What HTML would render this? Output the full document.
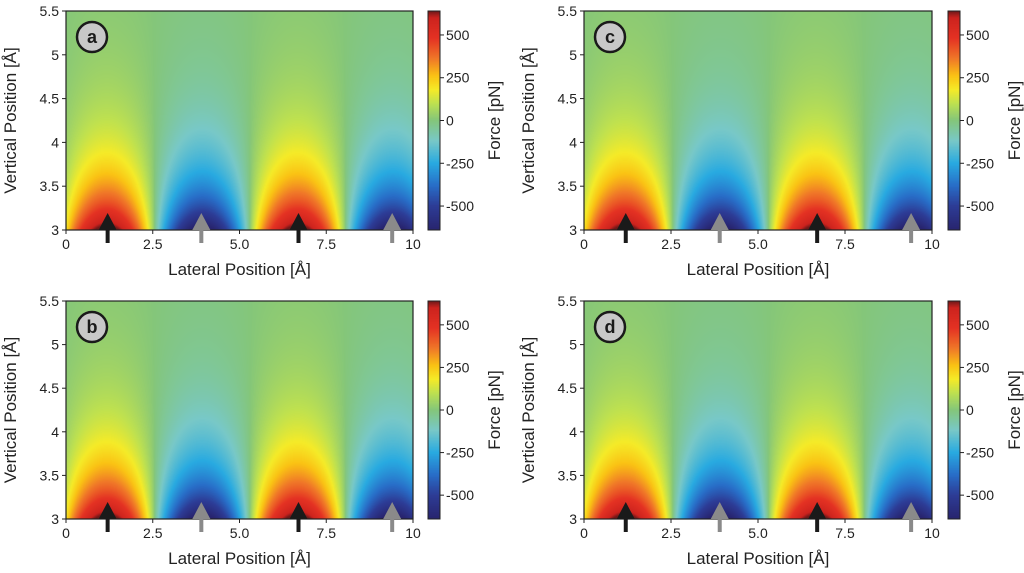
<!DOCTYPE html>
<html><head><meta charset="utf-8">
<style>
body{margin:0;width:1024px;height:573px;background:#fff;position:relative;overflow:hidden;font-family:"Liberation Sans",sans-serif}
canvas{position:absolute}
svg{position:absolute;left:0;top:0}
</style></head>
<body>
<svg id="s" width="1024" height="573"></svg>
<script>
// data
const peakPositions = [1.2, 3.9, 6.7, 9.4];
const peakAmplitudes = [690, -690, 690, -690];
const arrowColors = ['#1a1a1a', '#8a8a8a', '#1a1a1a', '#8a8a8a'];
const decayLength = 0.66;
const period = 5.5;
const xTicks = [0, 2.5, 5.0, 7.5, 10];
const xTickLabels = ['0', '2.5', '5.0', '7.5', '10'];
const yTicks = [3, 3.5, 4, 4.5, 5, 5.5];
const yTickLabels = ['3', '3.5', '4', '4.5', '5', '5.5'];
const cbTicks = [500, 250, 0, -250, -500];
const cbTickLabels = ['500', '250', '0', '-250', '-500'];
const panelLabels = ['a', 'b', 'c', 'd'];

const panels = [
 {x0:66,x1:413,y0:11,y1:230,cb:428},
 {x0:66,x1:413,y0:301,y1:519,cb:428},
 {x0:584,x1:932,y0:11,y1:230,cb:948},
 {x0:584,x1:932,y0:301,y1:519,cb:948}
];
const FMAX=640;
const stops=[[-640,[40,36,110]],[-500,[45,60,150]],[-380,[40,110,200]],[-250,[40,170,225]],[-120,[120,200,200]],[0,[132,198,122]],[100,[190,225,80]],[180,[245,235,40]],[260,[250,195,20]],[360,[240,120,40]],[480,[228,50,35]],[600,[205,35,30]],[640,[110,25,25]]];
function col(v){v=Math.max(-FMAX,Math.min(FMAX,v));
 for(let i=0;i<stops.length-1;i++){const a=stops[i],b=stops[i+1];if(v<=b[0]){const t=(v-a[0])/(b[0]-a[0]);return a[1].map((c,k)=>Math.round(c+(b[1][k]-c)*t));}}
 return stops[stops.length-1][1];}
function force(x,z){let f=0;const e=Math.exp(-(z-3)/decayLength);
 for(let i=0;i<peakPositions.length;i++){f+=peakAmplitudes[i]*Math.cos(2*Math.PI*(x-peakPositions[i])/period);}
 f/=peakPositions.length;
 const a=Math.max(...peakAmplitudes.map(Math.abs));
 const c=f/a;
 return a*e*Math.sign(c)*Math.pow(Math.abs(c),0.85);}
const svg=document.getElementById('s');const NS='http://www.w3.org/2000/svg';
function el(t,a,txt){const e=document.createElementNS(NS,t);for(const k in a)e.setAttribute(k,a[k]);if(txt!==undefined)e.textContent=txt;svg.appendChild(e);return e;}
panels.forEach((p,pi)=>{
 const W=p.x1-p.x0,H=p.y1-p.y0;
 const sx=v=>p.x0+v/10*W, sy=v=>p.y1-(v-3)/2.5*H;
 const cv=document.createElement('canvas');cv.width=W;cv.height=H;cv.style.left=p.x0+'px';cv.style.top=p.y0+'px';
 
 
 document.body.insertBefore(cv,svg);
 const ctx=cv.getContext('2d');const img=ctx.createImageData(W,H);
 for(let j=0;j<H;j++){const z=5.5-(j+0.5)/H*2.5;for(let i=0;i<W;i++){const x=(i+0.5)/W*10;const c=col(force(x,z));const o=(j*W+i)*4;img.data[o]=c[0];img.data[o+1]=c[1];img.data[o+2]=c[2];img.data[o+3]=255;}}
 ctx.putImageData(img,0,0);
 const cb=document.createElement('canvas');cb.width=12;cb.height=H;cb.style.left=p.cb+'px';cb.style.top=p.y0+'px';
 
 
 document.body.insertBefore(cb,svg);
 const c2=cb.getContext('2d');for(let j=0;j<H;j++){const c=col(FMAX-(j+0.5)/H*2*FMAX);c2.fillStyle=`rgb(${c})`;c2.fillRect(0,j,12,1);}
 el('rect',{x:p.cb,y:p.y0,width:12,height:H,fill:'none',stroke:'#222','stroke-width':1,});
 const cy=v=>p.y0+(FMAX-v)/(2*FMAX)*H;
 cbTicks.forEach((t,i)=>{el('line',{x1:p.cb+12,x2:p.cb+16,y1:cy(t),y2:cy(t),stroke:'#222',});
  el('text',{x:p.cb+18,y:cy(t)+5,'font-size':14,fill:'#222',},cbTickLabels[i]);});
 const fy=(p.y0+p.y1)/2;
 el('text',{x:p.cb+72,y:fy,'font-size':17,fill:'#222','text-anchor':'middle',transform:`rotate(-90 ${p.cb+72} ${fy})`,},'Force [pN]');
 el('rect',{x:p.x0,y:p.y0,width:W,height:H,fill:'none',stroke:'#222','stroke-width':1.2,});
 xTicks.forEach((t,i)=>{el('line',{x1:sx(t),x2:sx(t),y1:p.y1,y2:p.y1+4,stroke:'#222',});
  el('text',{x:sx(t),y:p.y1+19,'font-size':14,fill:'#222','text-anchor':'middle',},xTickLabels[i]);});
 yTicks.forEach((t,i)=>{el('line',{x1:p.x0-4,x2:p.x0,y1:sy(t),y2:sy(t),stroke:'#222',});
  el('text',{x:p.x0-7,y:sy(t)+5,'font-size':14,fill:'#222','text-anchor':'end',},yTickLabels[i]);});
 el('text',{x:(p.x0+p.x1)/2,y:p.y1+45,'font-size':17,fill:'#222','text-anchor':'middle',},'Lateral Position [Å]');
 const ly=(p.y0+p.y1)/2,lx=p.x0-50;
 el('text',{x:lx,y:ly,'font-size':17,fill:'#222','text-anchor':'middle',transform:`rotate(-90 ${lx} ${ly})`,},'Vertical Position [Å]');
 peakPositions.forEach((px,i)=>{const ax=sx(px);
  el('line',{x1:ax,x2:ax,y1:p.y1-6,y2:p.y1+13,stroke:arrowColors[i],'stroke-width':4,});
  el('polygon',{points:`${ax-9},${p.y1} ${ax+9},${p.y1} ${ax},${p.y1-17}`,fill:arrowColors[i],});});
 el('circle',{cx:p.x0+26,cy:p.y0+26,r:15,fill:'#c8c8c8',stroke:'#1a1a1a','stroke-width':2.5,});
 el('text',{x:p.x0+26,y:p.y0+32,'font-size':18,'font-weight':'bold',fill:'#1a1a1a','text-anchor':'middle',},panelLabels[pi]);
});
</script>
</body></html>
